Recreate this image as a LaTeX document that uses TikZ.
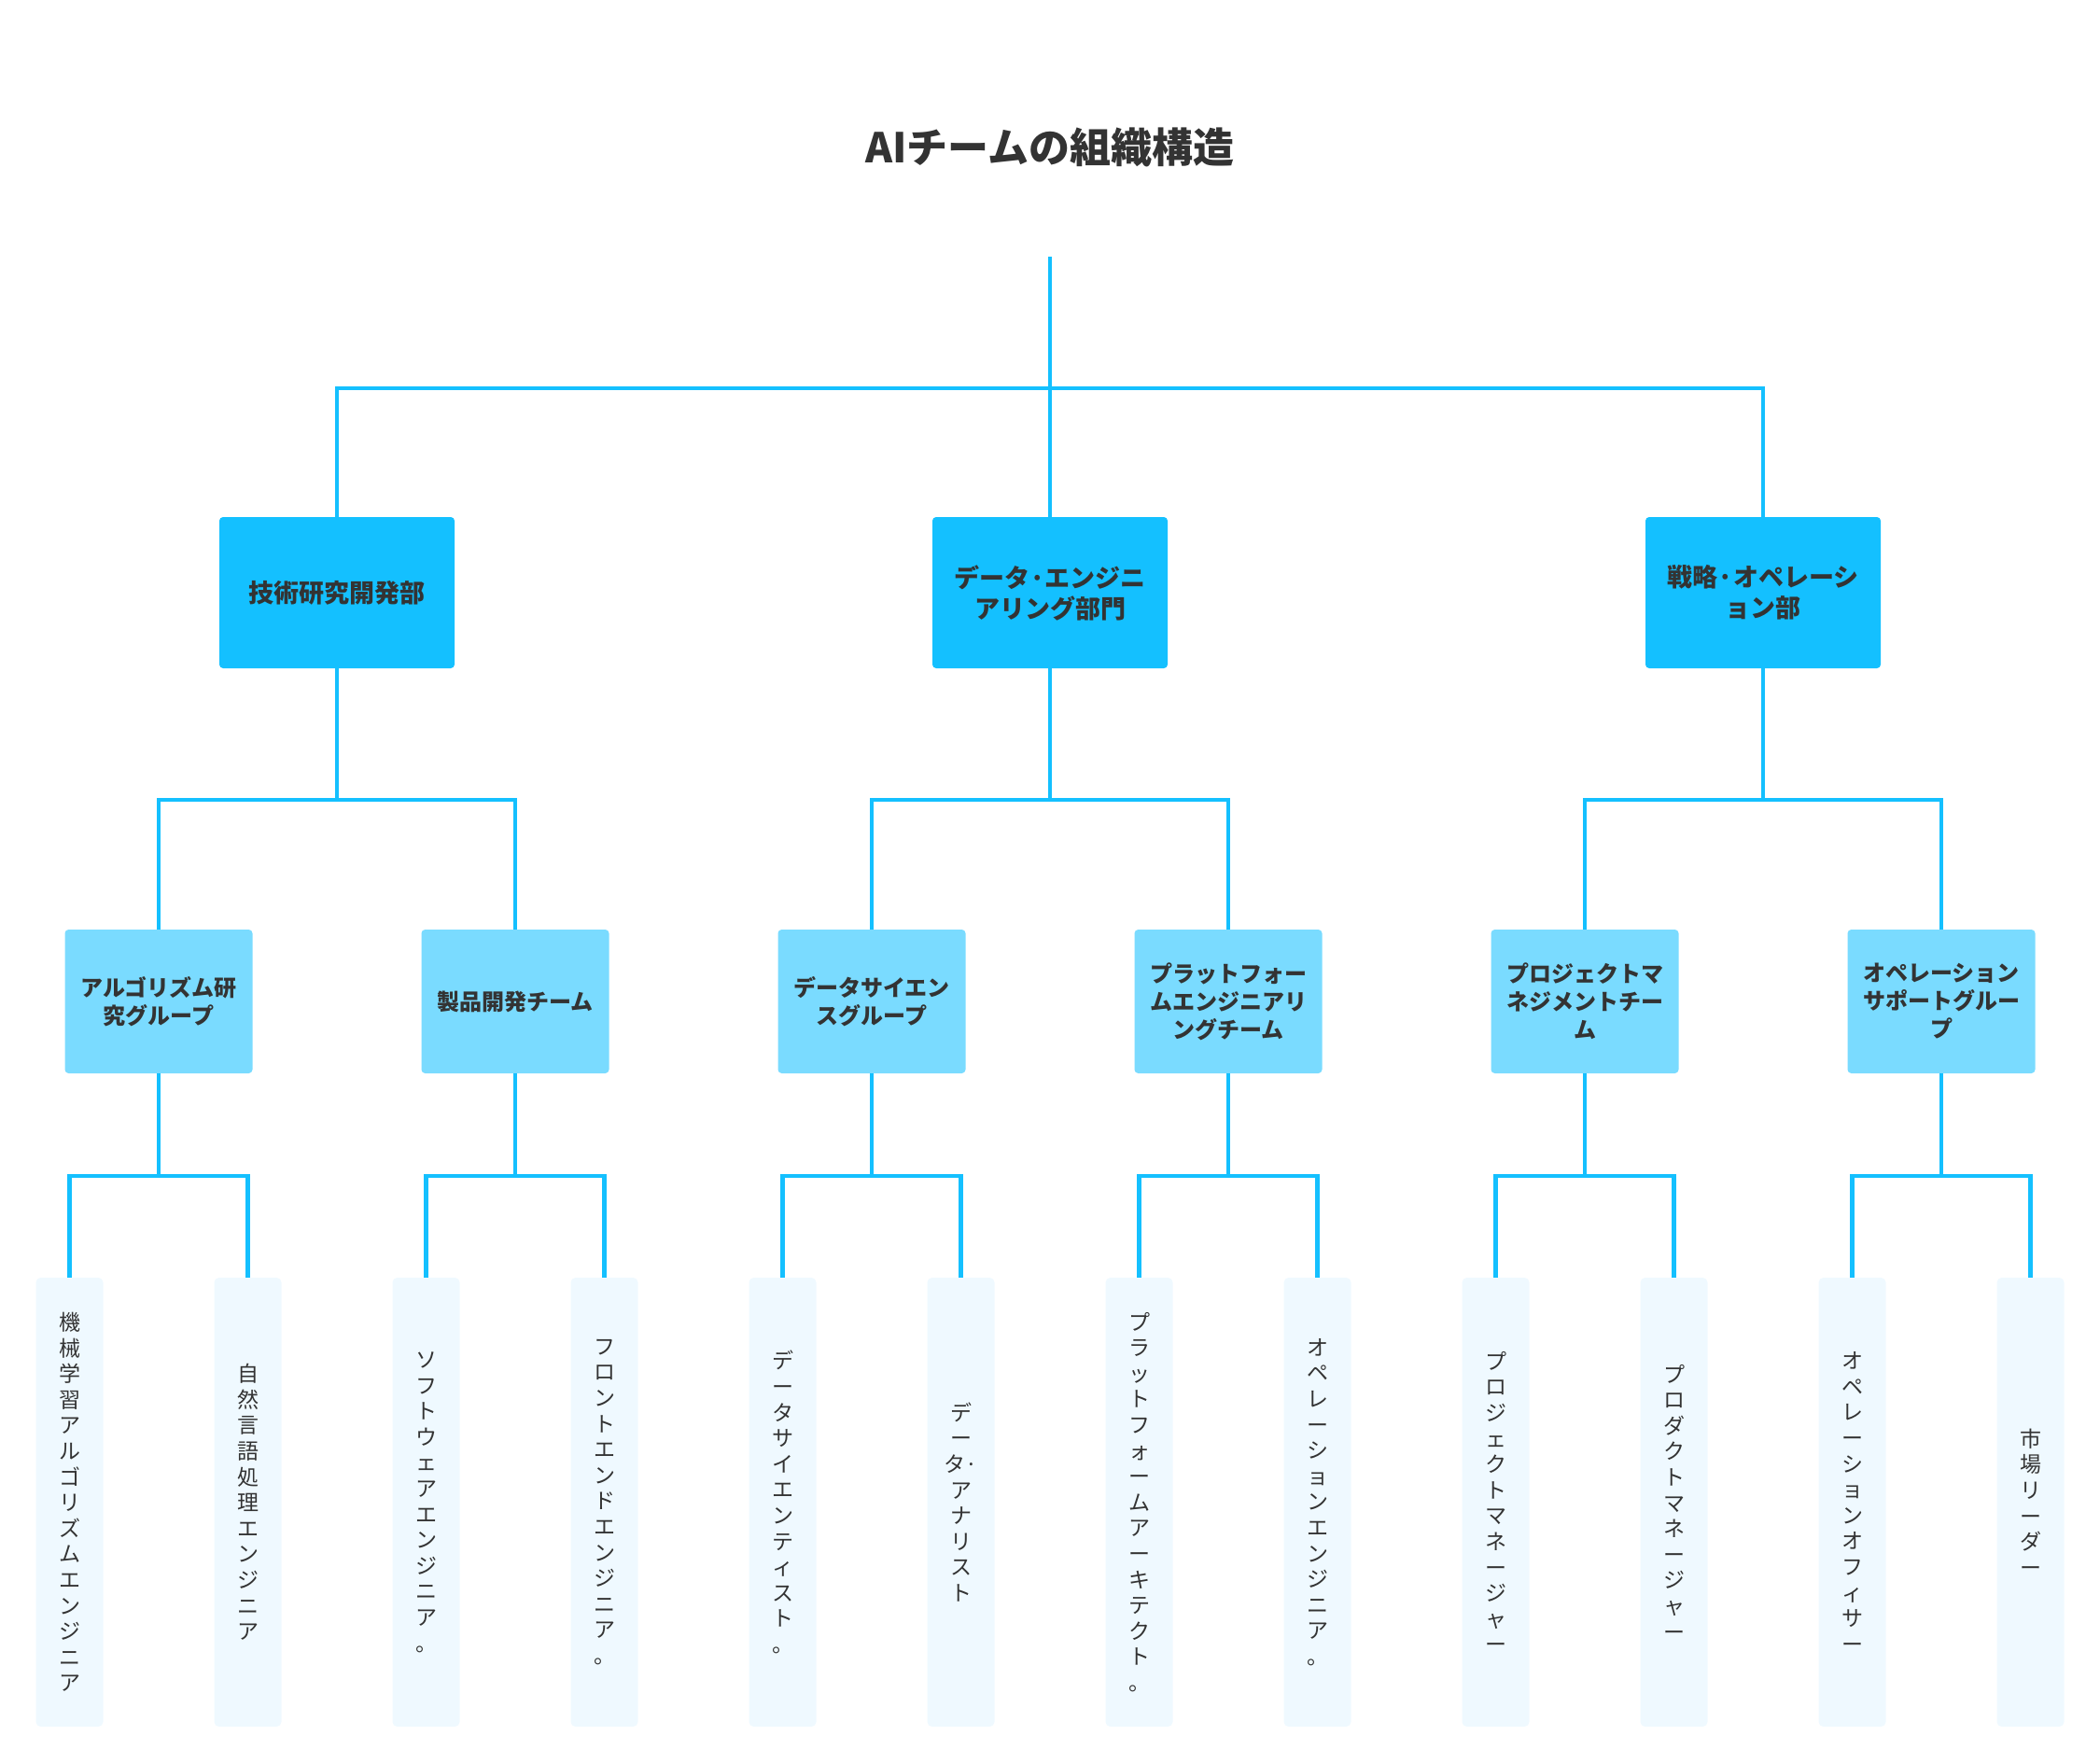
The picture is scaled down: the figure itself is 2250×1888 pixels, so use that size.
\documentclass[tikz,border=0pt]{standalone}
\usepackage{fontspec}
\setmainfont{Noto Sans CJK JP}
\definecolor{linec}{HTML}{14C0FF}
\definecolor{topc}{HTML}{14C0FF}
\definecolor{midc}{HTML}{7ADBFF}
\definecolor{leafc}{HTML}{EFF9FF}
\definecolor{txtc}{HTML}{333333}
\begin{document}
\begin{tikzpicture}[x=1pt,y=-1pt,
  conn/.style={draw=linec, line width=4.3pt},
  topbox/.style={rectangle, rounded corners=4pt, fill=topc, minimum width=252pt, minimum height=162pt, inner sep=0pt, align=center, text=txtc, font=\fontsize{27}{33}\selectfont\bfseries},
  midbox/.style={rectangle, rounded corners=4pt, fill=midc, minimum width=201pt, minimum height=154pt, inner sep=0pt, align=center, text=txtc, font=\fontsize{24}{30}\selectfont\bfseries},
  leafbox/.style={rectangle, rounded corners=5pt, fill=leafc, minimum width=72pt, minimum height=481pt, inner sep=0pt, align=center, text=txtc, font=\fontsize{23}{27.6}\selectfont},
  titlestyle/.style={text=txtc, font=\fontsize{44}{53}\selectfont\bfseries}
]
\useasboundingbox (0,0) rectangle (2250,1888);

\node[titlestyle] (title) at (1125,158) {AIチームの組織構造};

% level 1
\node[topbox] (d1) at (361,635) {技術研究開発部};
\node[topbox] (d2) at (1125,635) {データ·エンジニ\\アリング部門};
\node[topbox] (d3) at (1889,635) {戦略·オペレーシ\\ョン部};

% level 2
\node[midbox] (t1) at (170,1073) {アルゴリズム研\\究グループ};
\node[midbox] (t2) at (552,1073) {製品開発チーム};
\node[midbox] (t3) at (934,1073) {データサイエン\\スグループ};
\node[midbox] (t4) at (1316,1073) {プラットフォー\\ムエンジニアリ\\ングチーム};
\node[midbox] (t5) at (1698,1073) {プロジェクトマ\\ネジメントチー\\ム};
\node[midbox] (t6) at (2080,1073) {オペレーション\\サポートグルー\\プ};

% leaves
\node[leafbox] (l1) at (74.5,1609.5) {機\\械\\学\\習\\ア\\ル\\ゴ\\リ\\ズ\\ム\\エ\\ン\\ジ\\ニ\\ア};
\node[leafbox] (l2) at (265.5,1609.5) {自\\然\\言\\語\\処\\理\\エ\\ン\\ジ\\ニ\\ア};
\node[leafbox] (l3) at (456.5,1609.5) {ソ\\フ\\ト\\ウ\\ェ\\ア\\エ\\ン\\ジ\\ニ\\ア\\。};
\node[leafbox] (l4) at (647.5,1609.5) {フ\\ロ\\ン\\ト\\エ\\ン\\ド\\エ\\ン\\ジ\\ニ\\ア\\。};
\node[leafbox] (l5) at (838.5,1609.5) {デ\\ー\\タ\\サ\\イ\\エ\\ン\\テ\\ィ\\ス\\ト\\。};
\node[leafbox] (l6) at (1029.5,1609.5) {デ\\ー\\タ·\\ア\\ナ\\リ\\ス\\ト};
\node[leafbox] (l7) at (1220.5,1609.5) {プ\\ラ\\ッ\\ト\\フ\\ォ\\ー\\ム\\ア\\ー\\キ\\テ\\ク\\ト\\。};
\node[leafbox] (l8) at (1411.5,1609.5) {オ\\ペ\\レ\\ー\\シ\\ョ\\ン\\エ\\ン\\ジ\\ニ\\ア\\。};
\node[leafbox] (l9) at (1602.5,1609.5) {プ\\ロ\\ジ\\ェ\\ク\\ト\\マ\\ネ\\ー\\ジ\\ャ\\ー};
\node[leafbox] (l10) at (1793.5,1609.5) {プ\\ロ\\ダ\\ク\\ト\\マ\\ネ\\ー\\ジ\\ャ\\ー};
\node[leafbox] (l11) at (1984.5,1609.5) {オ\\ペ\\レ\\ー\\シ\\ョ\\ン\\オ\\フ\\ィ\\サ\\ー};
\node[leafbox] (l12) at (2175.5,1609.5) {市\\場\\リ\\ー\\ダ\\ー};

% connectors: root
\coordinate (root) at (1125,275);
\coordinate (b0) at (1125,416);
\draw[conn] (root) -- (d2.north);
\draw[conn] (d1.north) |- (b0) -| (d3.north);

% level1 -> level2
\foreach \d/\a/\b in {d1/t1/t2, d2/t3/t4, d3/t5/t6}{
  \coordinate (j\d) at ([yshift=-141pt]\d.south);
  \draw[conn] (\d.south) -- (j\d);
  \draw[conn] (\a.north) |- (j\d) -| (\b.north);
}

% level2 -> leaves
\foreach \t/\a/\b in {t1/l1/l2, t2/l3/l4, t3/l5/l6, t4/l7/l8, t5/l9/l10, t6/l11/l12}{
  \coordinate (k\t) at ([yshift=-110pt]\t.south);
  \draw[conn] (\t.south) -- (k\t);
  \draw[conn] (\a.north) |- (k\t) -| (\b.north);
}
\end{tikzpicture}
\end{document}
